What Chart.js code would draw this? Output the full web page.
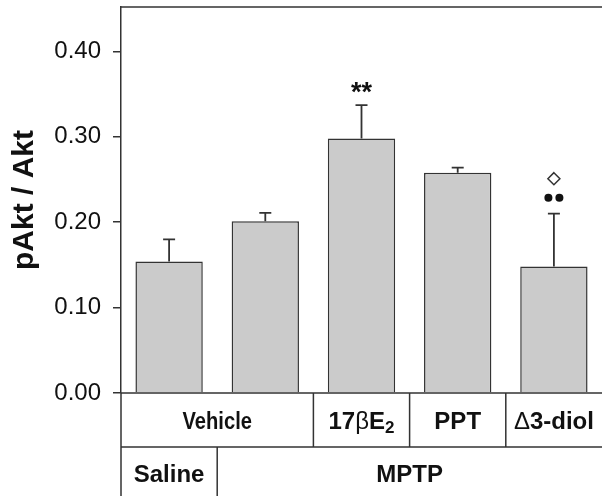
<!DOCTYPE html>
<html>
<head>
<meta charset="utf-8">
<title>pAkt / Akt</title>
<script src="https://cdn.jsdelivr.net/npm/chart.js@4.4.1/dist/chart.umd.min.js"></script>
<style>
  html, body { margin: 0; padding: 0; background: #fff; }
  #wrap { width: 602px; height: 496px; }
</style>
</head>
<body>
<div id="wrap"><canvas id="chart" width="602" height="496"></canvas></div>
<script>
// ── DATA ─────────────────────────────────────────────────────
const categories = ["Saline / Vehicle", "MPTP / Vehicle", "MPTP / 17βE2", "MPTP / PPT", "MPTP / Δ3-diol"];
const means  = [0.154, 0.201, 0.298, 0.258, 0.148];
const errors = [0.026, 0.010, 0.039, 0.006, 0.062];
const yTicks = [0.00, 0.10, 0.20, 0.30, 0.40];
const yMax = 0.452;

// table rows under the axis (first / last category each cell covers)
const treatmentRow = [
  { label: "Vehicle", first: 0, last: 1 },
  { label: "17βE2",   first: 2, last: 2 },
  { label: "PPT",     first: 3, last: 3 },
  { label: "Δ3-diol", first: 4, last: 4 },
];
const toxinRow = [
  { label: "Saline", first: 0, last: 0 },
  { label: "MPTP",   first: 1, last: 4 },
];

// significance marks above the error bars, listed bottom → top
const marks = [[], [], ["**"], [], ["••", "◇"]];

// ── STYLE ────────────────────────────────────────────────────
const INK = "#333";
const TEXT = "#111";
const SANS = "'Liberation Sans', Arial, sans-serif";
const ROW1_H = 54;

// split a label into runs: greek letters thin, digit after "E" as subscript
function labelRuns(label) {
  const runs = [];
  [...label].forEach((ch, i) => {
    if (ch === "β" || ch === "Δ") runs.push({ t: ch, font: `24px ${SANS}`, dy: 0 });
    else if (/\d/.test(ch) && label[i - 1] === "E") runs.push({ t: ch, font: `bold 17px ${SANS}`, dy: 6 });
    else {
      const last = runs[runs.length - 1];
      if (last && last.bold) last.t += ch;
      else runs.push({ t: ch, font: `bold 24px ${SANS}`, dy: 0, bold: true });
    }
  });
  return runs;
}

// "Vehicle" is set in a narrow face in the original
function drawRuns(ctx, label, cx, cy) {
  const runs = labelRuns(label);
  const sx = label === "Vehicle" ? 0.84 : 1;
  let total = 0;
  runs.forEach(r => { ctx.font = r.font; r.w = ctx.measureText(r.t).width; total += r.w; });
  ctx.save();
  ctx.translate(cx, cy);
  ctx.scale(sx, 1);
  let x = -total / 2;
  ctx.textAlign = "left";
  ctx.textBaseline = "middle";
  runs.forEach(r => { ctx.font = r.font; ctx.fillText(r.t, x, r.dy); x += r.w; });
  ctx.restore();
}

// ── PLUGIN: error bars, marks, frame and table ───────────────
const extrasPlugin = {
  id: "extras",
  afterDatasetsDraw(chart) {
    const { ctx, chartArea: a, scales: { x, y } } = chart;
    const H = chart.height;
    ctx.save();

    // error bars (upper half only)
    ctx.strokeStyle = INK;
    means.forEach((m, i) => {
      const px = x.getPixelForValue(i);
      const y0 = y.getPixelForValue(m);
      const y1 = y.getPixelForValue(m + errors[i]);
      ctx.lineWidth = 1.8;
      ctx.beginPath();
      ctx.moveTo(px, y0); ctx.lineTo(px, y1);
      ctx.moveTo(px - 6, y1); ctx.lineTo(px + 6, y1);
      ctx.stroke();

      let my = y1 - 16;
      marks[i].forEach(mk => {
        ctx.fillStyle = TEXT;
        if (mk === "**") {
          ctx.font = `bold 27px ${SANS}`;
          ctx.textAlign = "center";
          ctx.textBaseline = "middle";
          ctx.fillText(mk, px, my + 4);
        } else if (mk === "••") {
          [-5.5, 5.5].forEach(dx => {
            ctx.beginPath(); ctx.arc(px + dx, my, 4, 0, Math.PI * 2); ctx.fill();
          });
        } else if (mk === "◇") {
          ctx.lineWidth = 1.5;
          ctx.beginPath();
          ctx.moveTo(px, my - 6); ctx.lineTo(px + 6, my);
          ctx.lineTo(px, my + 6); ctx.lineTo(px - 6, my);
          ctx.closePath(); ctx.stroke();
        }
        my -= 19;
      });
    });

    // frame + table lines
    const edge = i => (x.getPixelForValue(i - 1) + x.getPixelForValue(i)) / 2;
    const rowY = a.bottom + ROW1_H;
    ctx.strokeStyle = INK;
    ctx.lineWidth = 1.5;
    ctx.beginPath();
    ctx.moveTo(a.left, a.top); ctx.lineTo(a.right, a.top);
    ctx.moveTo(a.left, a.bottom); ctx.lineTo(a.right, a.bottom);
    ctx.moveTo(a.left, rowY); ctx.lineTo(a.right, rowY);
    ctx.moveTo(a.left, a.bottom); ctx.lineTo(a.left, H);
    treatmentRow.forEach(c => {
      if (c.first > 0) { ctx.moveTo(edge(c.first), a.bottom); ctx.lineTo(edge(c.first), rowY); }
    });
    toxinRow.forEach(c => {
      if (c.first > 0) { ctx.moveTo(edge(c.first), rowY); ctx.lineTo(edge(c.first), H); }
    });
    ctx.stroke();

    // table labels
    ctx.fillStyle = TEXT;
    const span = c => {
      const l = c.first === 0 ? a.left : edge(c.first);
      const r = c.last === categories.length - 1 ? a.right : edge(c.last + 1);
      return (l + r) / 2;
    };
    treatmentRow.forEach(c => drawRuns(ctx, c.label, span(c), a.bottom + 29.5));
    toxinRow.forEach(c => drawRuns(ctx, c.label, span(c), rowY + 28.5));

    ctx.restore();
  },
};

// ── CHART ────────────────────────────────────────────────────
new Chart(document.getElementById("chart"), {
  type: "bar",
  data: {
    labels: categories,
    datasets: [{
      data: means,
      backgroundColor: "#cbcbcb",
      borderColor: INK,
      borderWidth: 1.5,
      barPercentage: 0.7,
      categoryPercentage: 1,
    }],
  },
  options: {
    responsive: false,
    animation: false,
    devicePixelRatio: 1,
    layout: { padding: { top: 7, right: 0, bottom: 103, left: 0 } },
    plugins: { legend: { display: false }, tooltip: { enabled: false } },
    scales: {
      x: { display: false },
      y: {
        min: 0,
        max: yMax,
        afterBuildTicks: s => { s.ticks = yTicks.map(v => ({ value: v })); },
        afterFit: s => { s.width = 121; s.paddingTop = 0; s.paddingBottom = 0; },
        ticks: {
          color: TEXT,
          padding: 12,
          font: { family: SANS, size: 24 },
          callback: v => v.toFixed(2),
        },
        grid: { drawOnChartArea: false, tickLength: 8, color: INK, lineWidth: 1.5 },
        border: { color: INK, width: 1.5 },
        title: {
          display: true,
          text: "pAkt / Akt",
          color: TEXT,
          font: { family: SANS, size: 30, weight: "bold" },
          padding: { top: 7, bottom: 0 },
        },
      },
    },
  },
  plugins: [extrasPlugin],
});
</script>
</body>
</html>
